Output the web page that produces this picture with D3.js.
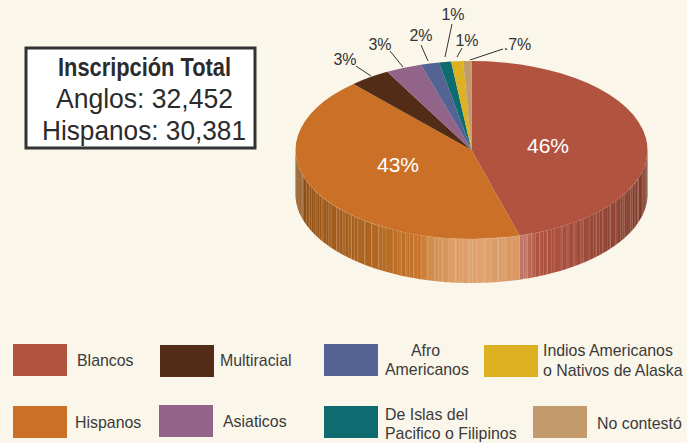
<!DOCTYPE html>
<html><head><meta charset="utf-8"><style>html,body{margin:0;background:#fff}svg{display:block}text{font-family:"Liberation Sans",Arial,sans-serif}</style>
<script src="https://cdn.jsdelivr.net/npm/d3@7"></script></head><body>
<svg id="c" width="697" height="443"></svg>
<script>
const names=["Blancos","Hispanos","Multiracial","Asiaticos","Afro Americanos","De Islas del Pacifico o Filipinos","Indios Americanos o Nativos de Alaska","No contestó"];
const values=[45.6,42.7,3.75,3.3,1.7,1.1,1.1,0.75];
const pctLabels=["46%","43%","3%","3%","2%","1%","1%",".7%"];
const colors=["#b25340","#cb7127","#522c16","#92648a","#536394","#0e6b70","#dcb223","#c29a6c"];
const totals=["Inscripción Total","Anglos: 32,452","Hispanos: 30,381"];
const svg=d3.select("#c");
svg.append("rect").attr("width",687).attr("height",443).attr("fill","#faf6ea");
const cx=471.5,cy=150,rx=176,ry=89,depth=44;
const arcs=d3.pie().sort(null).value(d=>d)(values);
const rad=d3.arc().innerRadius(0).outerRadius(100);
const px=a=>cx+rx*Math.sin(a), py=a=>cy-ry*Math.cos(a);
// side wall
const shadeRed=d3.scaleLinear().domain([90,123,150,158,161,164]).range(["#6f3020","#8c4231","#a94f3c","#b0533f","#c07262","#c27767"]);
const shadeOrange=d3.scaleLinear().domain([164,178,185,194,196,215,240,270]).range(["#d9965f","#dfa271","#dc9c66","#d08a45","#c9742a","#ad651f","#995518","#7c4006"]);
const wall=svg.append("g");
const steps=d3.range(90,270,1.4);
wall.selectAll("path").data(steps).join("path")
 .attr("d",d=>{const a=d*Math.PI/180,b=Math.min(d+1.45,270)*Math.PI/180;
   return `M${px(a)},${py(a)}L${px(b)},${py(b)}L${px(b)},${py(b)+depth}L${px(a)},${py(a)+depth}Z`;})
 .attr("fill",d=>d<arcs[0].endAngle*180/Math.PI?shadeRed(d):shadeOrange(d));
// faint vertical hairlines in the wall, evenly spaced across its width
const frontY=x=>cy+ry*Math.sqrt(1-((x-cx)/rx)**2);
wall.selectAll("line").data(d3.range(302,645,7)).join("line")
 .attr("x1",d=>d).attr("x2",d=>d).attr("y1",frontY).attr("y2",d=>frontY(d)+depth)
 .attr("stroke","#fff").attr("stroke-opacity",.2).attr("stroke-width",.8);
// top
const face=svg.append("g").attr("transform",`translate(${cx},${cy}) scale(${rx/100},${ry/100})`);
face.selectAll("path").data(arcs).join("path").attr("d",rad).attr("fill",(d,i)=>colors[i]);
// in-slice labels
const inner=[[548,146],[398,165]];
svg.selectAll("text.in").data(inner).join("text").attr("class","in")
 .attr("x",d=>d[0]).attr("y",d=>d[1]).attr("dy",".35em").attr("text-anchor","middle")
 .attr("font-size",21).attr("fill","#fff").text((d,i)=>pctLabels[i]);
// outer labels
const outer=[
 {i:2,x:345,y:59,l:[356,66,371,76]},
 {i:3,x:380,y:44,l:[390,51,403,67]},
 {i:4,x:421,y:35,l:[421,45,428,61]},
 {i:5,x:453,y:14,l:[452,24,445,57]},
 {i:6,x:467,y:40,l:[462,48,457,57]},
 {i:7,x:517.5,y:44,l:[503,49,470,60]}];
svg.selectAll("line.o").data(outer).join("line").attr("class","o")
 .attr("x1",d=>d.l[0]).attr("y1",d=>d.l[1]).attr("x2",d=>d.l[2]).attr("y2",d=>d.l[3])
 .attr("stroke","#333").attr("stroke-width",1);
svg.selectAll("text.o").data(outer).join("text").attr("class","o")
 .attr("x",d=>d.x).attr("y",d=>d.y).attr("dy",".35em").attr("text-anchor","middle")
 .attr("font-size",16).attr("fill","#333").text(d=>pctLabels[d.i]);
// title box
svg.append("rect").attr("x",26).attr("y",48).attr("width",229).attr("height",100).attr("fill","#fff").attr("stroke","#333").attr("stroke-width",3);
const tb=[{x:58,w:173,y:76,s:25,b:1},{x:56,w:177,y:108,s:27.5},{x:42,w:204,y:140,s:27.5}];
svg.selectAll("text.t").data(tb).join("text").attr("class","t")
 .attr("x",d=>d.x).attr("y",d=>d.y).attr("font-size",d=>d.s).attr("font-weight",d=>d.b?"bold":"normal")
 .attr("fill","#2b2b2b").attr("textLength",d=>d.w).attr("lengthAdjust","spacingAndGlyphs").text((d,i)=>totals[i]);
// legend
const legend=[
 {c:0,x:13,y:344,t:[["Blancos",77,366]]},
 {c:2,x:160,y:345,t:[["Multiracial",220,366]]},
 {c:4,x:324,y:344,t:[["Afro",411,356],["Americanos",385,375]]},
 {c:6,x:484,y:345,t:[["Indios Americanos",543,356],["o Nativos de Alaska",543,376]]},
 {c:1,x:13,y:406,t:[["Hispanos",75,428]]},
 {c:3,x:159,y:405,t:[["Asiaticos",223,427]]},
 {c:5,x:324,y:406,t:[["De Islas del",385,420],["Pacifico o Filipinos",385,439]]},
 {c:7,x:533,y:406,t:[["No contestó",597,429]]}];
const lg=svg.selectAll("g.l").data(legend).join("g").attr("class","l");
lg.append("rect").attr("x",d=>d.x).attr("y",d=>d.y).attr("width",54).attr("height",32).attr("fill",d=>colors[d.c]);
lg.selectAll("text").data(d=>d.t).join("text").attr("x",d=>d[1]).attr("y",d=>d[2]).attr("font-size",15.9).attr("fill","#3a3a3a").text(d=>d[0]);
</script></body></html>
